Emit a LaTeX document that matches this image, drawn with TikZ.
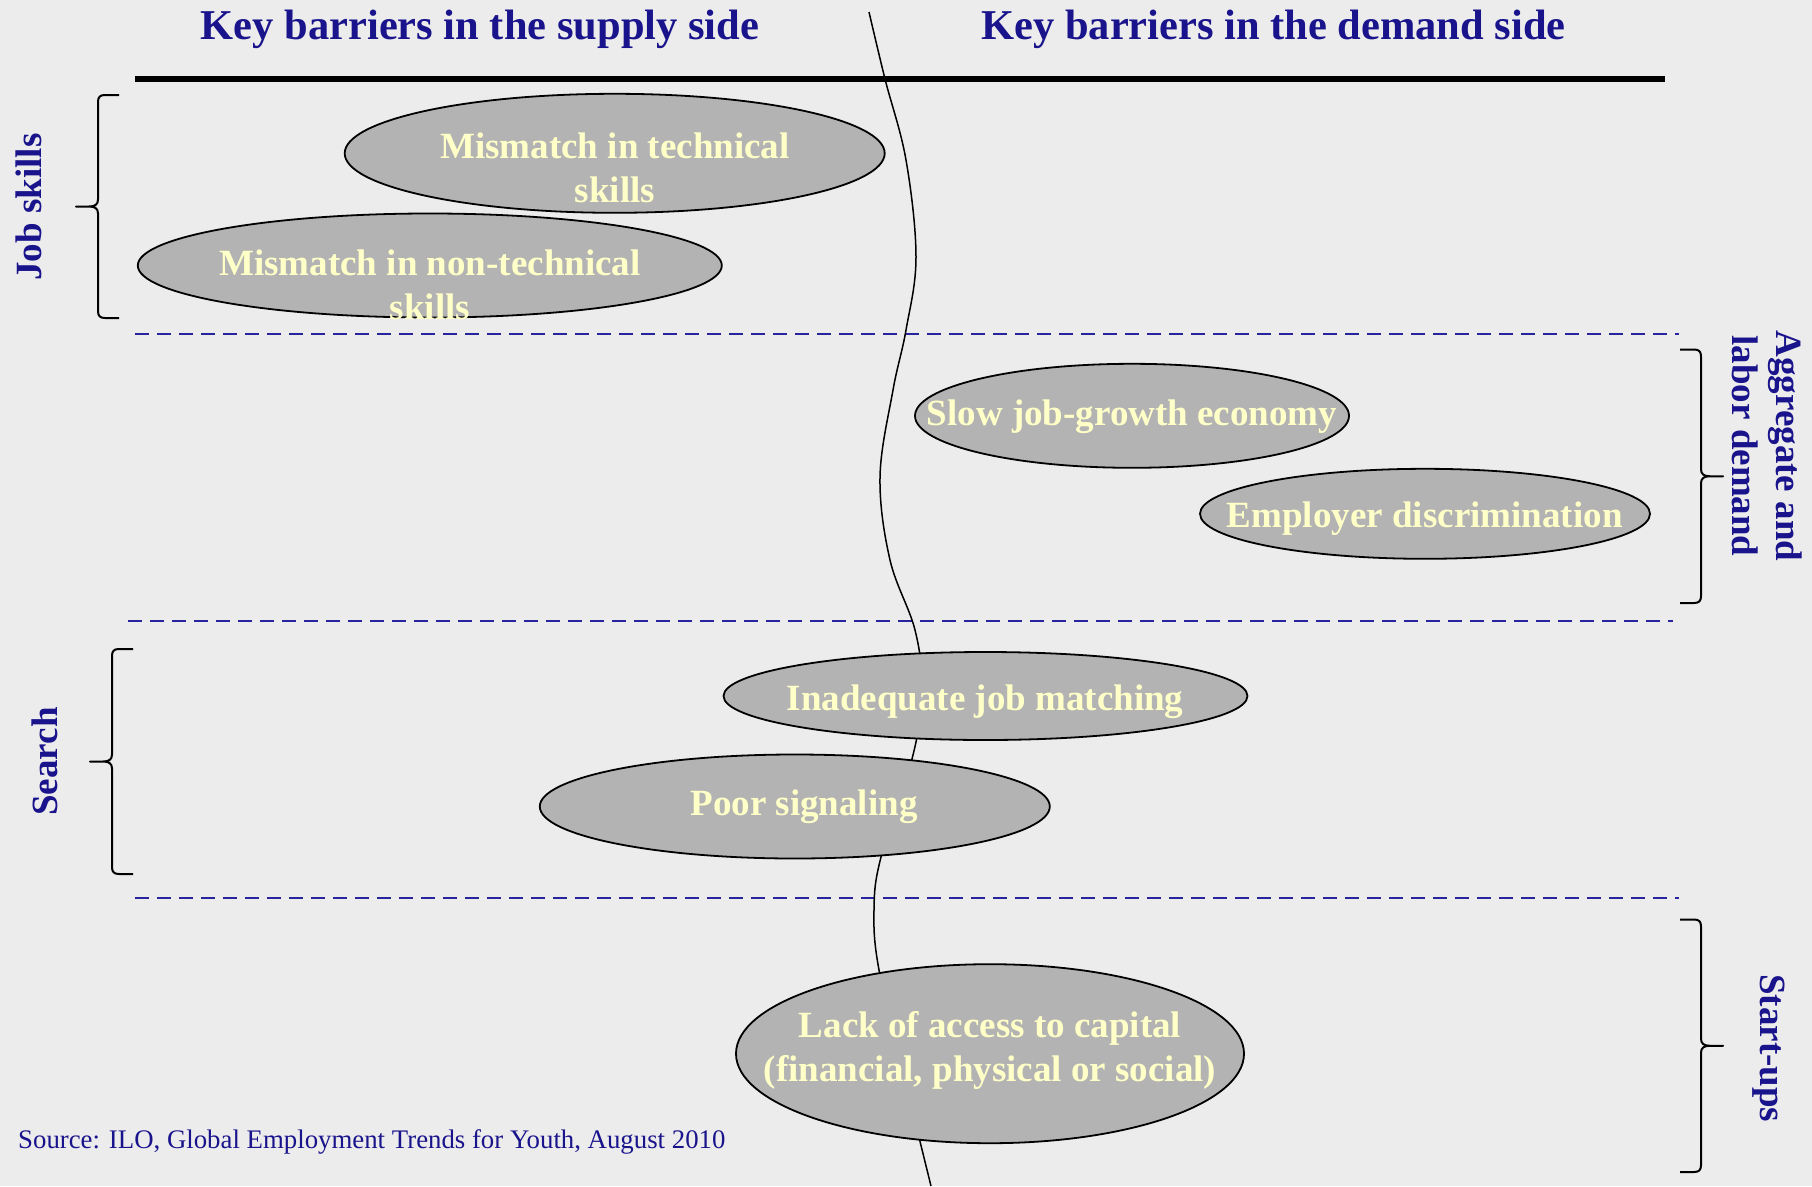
\documentclass[tikz,border=0pt]{standalone}
\usepackage{fontspec}
\setmainfont{Liberation Serif}
\usetikzlibrary{shapes.geometric}

\definecolor{pagegray}{RGB}{236,236,236}
\definecolor{navy}{RGB}{26,20,140}
\definecolor{dashblue}{RGB}{40,36,160}
\definecolor{blobgray}{RGB}{179,179,179}
\definecolor{cream}{RGB}{255,255,200}

% curly brace, tip to the left, #1 = half height
\newcommand{\bracepath}[1]{(0,0) -- (-14,0) .. controls (-19,0) and (-21,2) .. (-21,7)
  -- (-21,#1-7) .. controls (-21,#1-2) and (-24,#1) .. (-30,#1) -- (-43,#1)
  -- (-30,#1) .. controls (-24,#1) and (-21,#1+2) .. (-21,#1+7)
  -- (-21,2*#1-7) .. controls (-21,2*#1-2) and (-19,2*#1) .. (-14,2*#1) -- (0,2*#1)}

\begin{document}
\begin{tikzpicture}[x=1pt, y=-1pt,
  title/.style={text=navy, font=\fontsize{42.5}{50}\selectfont\bfseries, anchor=base, inner sep=0pt},
  side/.style={text=navy, font=\fontsize{37}{44}\selectfont\bfseries, align=center, inner sep=0pt},
  blob/.style={ellipse, draw=black, line width=1.8pt, fill=blobgray, inner sep=0pt},
  blobtext/.style={text=cream, font=\fontsize{37}{44}\selectfont\bfseries, align=center, inner sep=0pt},
  struts/.style={execute at begin node=\strut, execute at end node=\strut},
  divider/.style={draw=dashblue, line width=2pt, dash pattern=on 14pt off 8pt},
  bracestroke/.style={draw=black, line width=2pt, line join=round},
  ]
  \useasboundingbox (0,0) rectangle (1812,1186);
  \fill[pagegray] (0,0) rectangle (1812,1186);

  % Headings
  \node[title] (supply) at (480,39.5) {Key barriers in the supply side};
  \node[title] (demand) at (1273.5,39.5) {Key barriers in the demand side};
  \draw[line width=6pt] (135,79) -- (1665,79);

  % Band borders
  \draw[divider] (135,334) -- (1679,334);
  \draw[divider] (128,621) -- (1673,621);
  \draw[divider] (135,897.5) -- (1679,897.5);

  % Supply / demand border
  \draw[line width=1.5pt] plot[smooth, tension=0.6] coordinates {
    (869,12) (885,79) (906,160) (916,257) (906,330) (893,390) (880,477)
    (890,560) (915,630) (922,690) (913,755) (881,857) (874,910) (879,970)
    (905,1080) (931,1186)};

  % Barriers
  \node[blob, minimum width=540, minimum height=119] (tech) at (614.7,153.3) {};
  \node[blob, minimum width=584, minimum height=104] (nontech) at (429.8,265.5) {};
  \node[blob, minimum width=434, minimum height=104] (slow) at (1132,415.8) {};
  \node[blob, minimum width=450, minimum height=90] (discrim) at (1425,513.8) {};
  \node[blob, minimum width=524, minimum height=88] (matching) at (985.5,696) {};
  \node[blob, minimum width=510, minimum height=104] (signaling) at (794.8,806.5) {};
  \node[blob, minimum width=508, minimum height=179] (capital) at (990,1053.7) {};

  \node[blobtext, struts] (techtxt) at (615,173.9) {Mismatch in technical\\skills};
  \node[blobtext, struts] (nontechtxt) at (430,291.2) {Mismatch in non-technical\\skills};
  \node[blobtext, anchor=base] (slowtxt) at (1132,425) {Slow job-growth economy};
  \node[blobtext, anchor=base] (discrimtxt) at (1424.7,527.7) {Employer discrimination};
  \node[blobtext, anchor=base] (matchingtxt) at (985,710) {Inadequate job matching};
  \node[blobtext, anchor=base] (signalingtxt) at (804,815) {Poor signaling};
  \node[blobtext, struts] (capitaltxt) at (990,1053.2) {Lack of access to capital\\(financial, physical or social)};

  % Braces and their labels
  \begin{scope}[shift={(119,95)}]
    \draw[bracestroke] \bracepath{111.5};
  \end{scope}
  \begin{scope}[shift={(133,649)}]
    \draw[bracestroke] \bracepath{112.5};
  \end{scope}
  \begin{scope}[shift={(1680,349.5)}, xscale=-1]
    \draw[bracestroke] \bracepath{126.75};
  \end{scope}
  \begin{scope}[shift={(1680,919.5)}, xscale=-1]
    \draw[bracestroke] \bracepath{126.25};
  \end{scope}

  \node[side, rotate=90, anchor=base] (jobskills) at (41.5,207) {Job skills};
  \node[side, rotate=90, anchor=base] (search) at (57.5,761.5) {Search};
  \node[side, rotate=-90, struts] (aggdemand) at (1760.8,446) {Aggregate and\\labor demand};
  \node[side, rotate=-90, anchor=base] (startups) at (1760,1048.3) {Start-ups};

  % Source
  \node[anchor=base west, text=navy, font=\fontsize{26.8}{32}\selectfont, inner sep=0pt] (source)
    at (18,1148.5) {Source: ILO, Global Employment Trends for Youth, August 2010};
\end{tikzpicture}
\end{document}
